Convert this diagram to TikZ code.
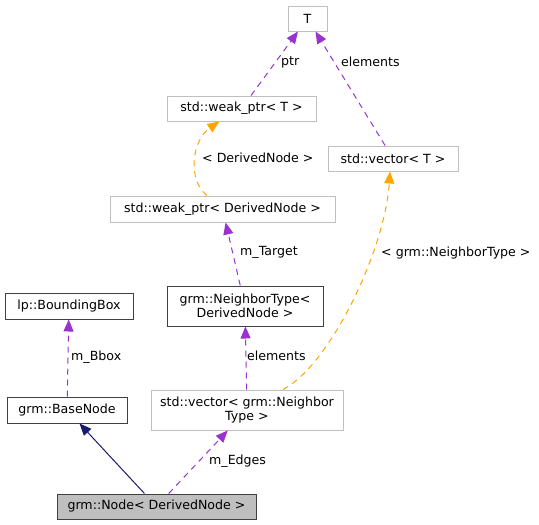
\documentclass[tikz,border=0pt]{standalone}
\usepackage{fontspec}
\setmainfont{DejaVu Sans}
\usetikzlibrary{calc}
\usetikzlibrary{shapes,arrows.meta}

\definecolor{edgepurple}{HTML}{9A32CD}
\definecolor{edgeorange}{HTML}{FFA500}
\definecolor{edgenavy}{HTML}{191970}
\definecolor{boxgray}{HTML}{BFBFBF}
\definecolor{boxdark}{HTML}{404040}

\tikzset{
  cls/.style={draw=boxgray, line width=1pt, inner sep=0pt, align=center,
    font=\fontsize{12.6}{14}\selectfont},
  doccls/.style={cls, draw=boxdark},
  member/.style={draw=edgepurple, line width=1pt,
    dash pattern=on 6pt off 5pt, -{Triangle[length=12pt,width=10pt]}},
  templ/.style={member, draw=edgeorange},
  inherit/.style={draw=edgenavy, line width=1pt,
    -{Triangle[length=12pt,width=10pt]}},
  lbl/.style={anchor=west, inner sep=0pt, font=\fontsize{12.6}{14}\selectfont}
}

\begin{document}
\begin{tikzpicture}[x=1pt,y=-1pt]
    \useasboundingbox (0,0) rectangle (539,525);
    % classes
    \node[cls, minimum width=39pt, minimum height=25pt] (T) at (307.5,18.5) {T};
    \node[cls, minimum width=149pt, minimum height=25pt] (WeakT) at (241.5,108.5) {std::weak\_ptr< T >};
    \node[cls, minimum width=130pt, minimum height=25pt] (VecT) at (393,158.5) {std::vector< T >};
    \node[cls, minimum width=225pt, minimum height=26pt] (WeakDN) at (222.5,209) {std::weak\_ptr< DerivedNode >};
    \node[doccls, minimum width=128pt, minimum height=26pt] (BBox) at (69,306) {lp::BoundingBox};
    \node[doccls, minimum width=156pt, minimum height=40pt] (NbType) at (245,306) {grm::NeighborType<\\DerivedNode >};
    \node[doccls, minimum width=120pt, minimum height=26pt] (BaseNode) at (67,410) {grm::BaseNode};
    \node[cls, minimum width=192pt, minimum height=40pt] (VecNb) at (247,410) {std::vector< grm::Neighbor\\Type >};
    \node[doccls, fill=boxgray, minimum width=199pt, minimum height=25pt] (Node) at (156.5,506.5) {grm::Node< DerivedNode >};
    % edges
    \draw[member] (WeakT) -- (T);
    \draw[member] (VecT) -- (T);
    \draw[templ] ($(WeakDN.north)+(-15.5,0)$) .. controls (187,180) and (192,140) .. ($(WeakT.south)+(-22,0)$);
    \draw[member] (NbType) -- (WeakDN);
    \draw[member] (VecNb) -- (NbType);
    \draw[templ] ($(VecNb.north)+(36,0)$) .. controls (330,365) and (385,250) .. ($(VecT.south)+(-3,0)$);
    \draw[member] (BaseNode) -- (BBox);
    \draw[inherit] (Node) -- (BaseNode);
    \draw[member] (Node) -- (VecNb);
    % labels
    \node[lbl] (LblPtr) at (281,62) {ptr};
    \node[lbl] (LblElemT) at (341,62) {elements};
    \node[lbl] (LblDN) at (202,158) {< DerivedNode >};
    \node[lbl] (LblTarget) at (240,252) {m\_Target};
    \node[lbl] (LblNbType) at (381,253) {< grm::NeighborType >};
    \node[lbl] (LblBbox) at (71,357) {m\_Bbox};
    \node[lbl] (LblElemNb) at (247,356) {elements};
    \node[lbl] (LblEdges) at (209,461) {m\_Edges};
  \end{tikzpicture}
\end{document}
